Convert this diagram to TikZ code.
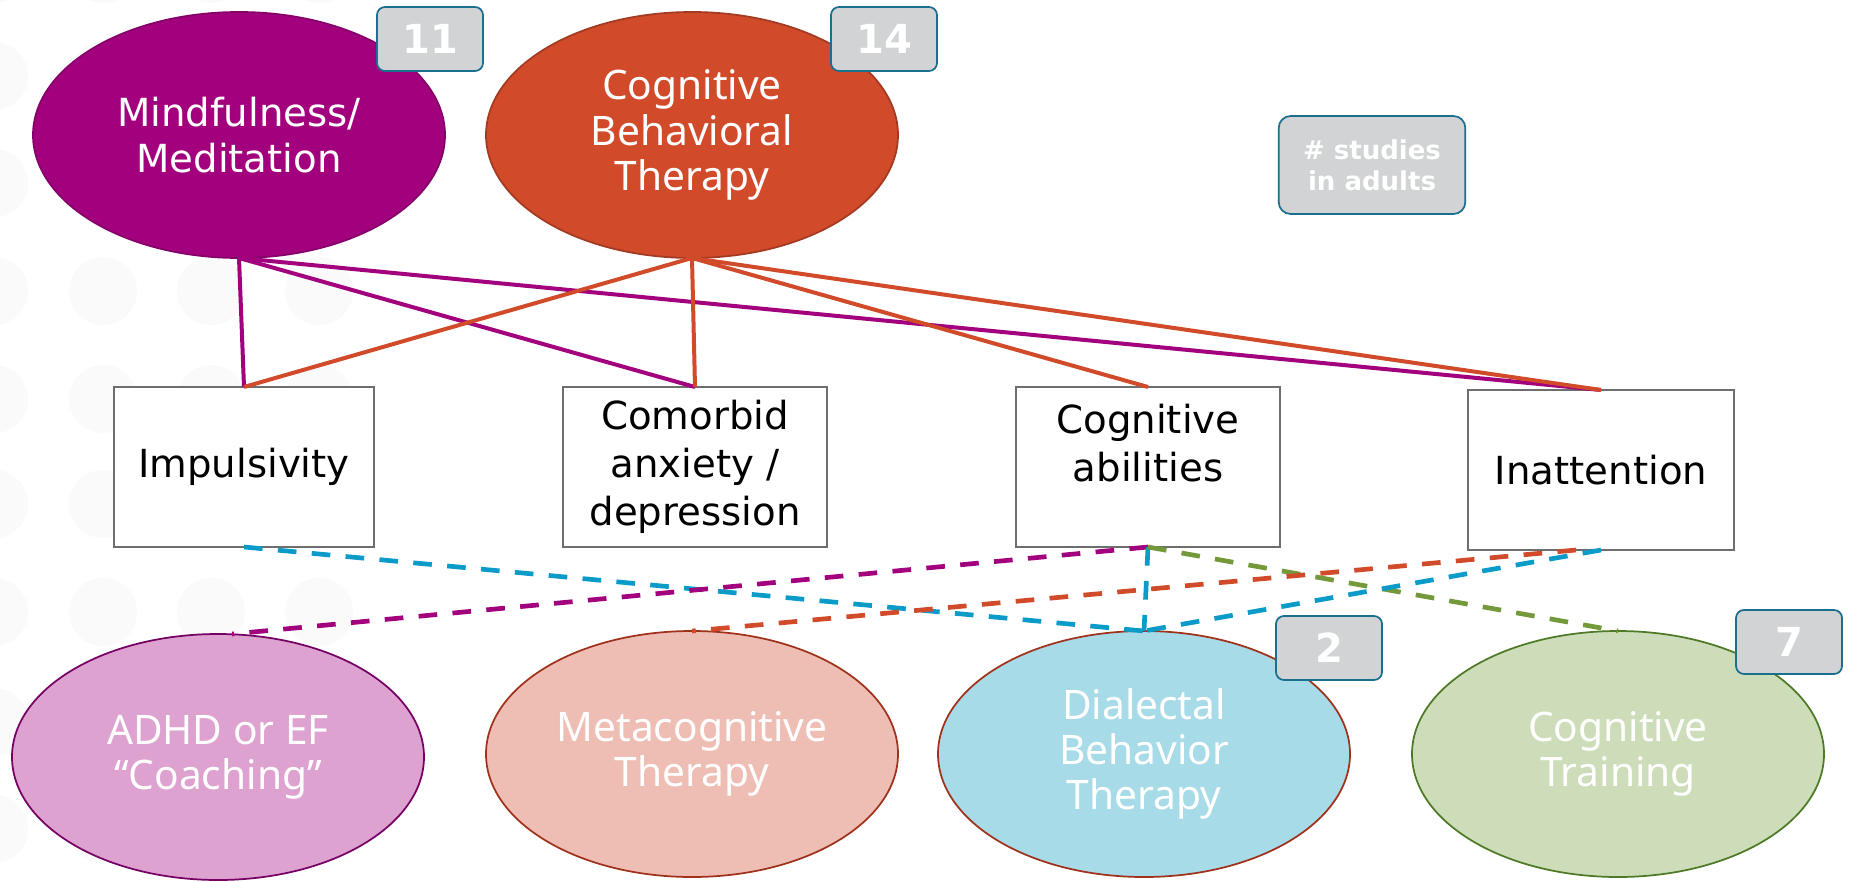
\documentclass[tikz,border=0pt]{standalone}
\usepackage{fontspec}
\setmainfont{DejaVu Sans}
\newfontfamily\narrowfont{Noto Sans}
\usetikzlibrary{shapes.geometric}

\definecolor{mindful}{HTML}{A2007D}
\definecolor{mindfulrim}{HTML}{86006A}
\definecolor{cbt}{HTML}{D14A2A}
\definecolor{cbtrim}{HTML}{A33A22}
\definecolor{coach}{HTML}{DDA2D0}
\definecolor{coachrim}{HTML}{760064}
\definecolor{meta}{HTML}{EEBEB4}
\definecolor{metarim}{HTML}{A0321C}
\definecolor{dbt}{HTML}{A7DBE8}
\definecolor{train}{HTML}{CEDDB9}
\definecolor{trainrim}{HTML}{4E7A27}
\definecolor{badgefill}{HTML}{D1D3D4}
\definecolor{badgerim}{HTML}{1B6F8E}
\definecolor{dashblue}{HTML}{0A9BC9}
\definecolor{dashgreen}{HTML}{74993A}
\definecolor{boxrim}{HTML}{6E6E6E}
\definecolor{dot}{HTML}{FAFAFA}

\begin{document}
\begin{tikzpicture}[x=0.75pt, y=-0.75pt,
  oval/.style={ellipse, minimum width=309pt, minimum height=184.5pt,
    inner sep=0pt, outer sep=0pt, line width=1.3pt, text=white, align=center},
  topfont/.style={font=\fontsize{29}{35}\selectfont},
  lowfont/.style={font=\narrowfont\fontsize{30.5}{34}\selectfont},
  issue/.style={rectangle, draw=boxrim, fill=white, line width=1.4pt,
    minimum height=120pt, inner sep=0pt, outer sep=0pt, align=center,
    font=\fontsize{29}{36}\selectfont},
  badge/.style={rectangle, rounded corners=6pt, fill=badgefill, draw=badgerim,
    line width=1.3pt, text=white, font=\bfseries\fontsize{30}{32}\selectfont,
    minimum width=79.5pt, minimum height=48pt, inner sep=0pt},
  solidlink/.style={line width=3pt},
  dashlink/.style={line width=3.5pt, dash pattern=on 14pt off 11.5pt}]

\useasboundingbox (0,0) rectangle (1858,881);
\fill[white] (0,0) rectangle (1858,881);

% faint dotted backdrop on the left
\foreach \cx in {-6,103,211,319}
  \foreach \cy in {-31,76,183,291,399,504,612,722,829}
    \fill[dot] (\cx,\cy) ellipse [x radius=25.5pt, y radius=25.5pt];

% treatments (top row)
\node[oval, topfont, fill=mindful, draw=mindfulrim] (mind) at (239,135) {Mindfulness/\\Meditation};
\node[oval, lowfont, fill=cbt, draw=cbtrim] (cbt) at (692,135) {Cognitive\\Behavioral\\Therapy};

% symptom domains
\node[issue, minimum width=195pt] (imp) at (244,467) {Impulsivity};
\node[issue, minimum width=198pt] (comorb) at (695,467) {Comorbid\\anxiety /\\depression};
\node[issue, minimum width=198pt] (cogab) at (1148,467) {Cognitive\\abilities\\\mbox{}};
\node[issue, minimum width=199.5pt] (inatt) at (1601,470) {Inattention};

% treatments (bottom row)
\node[oval, lowfont, fill=coach, draw=coachrim] (coach) at (218,757) {ADHD or EF\\“Coaching”};
\node[oval, lowfont, fill=meta, draw=metarim] (meta) at (692,754) {Metacognitive\\Therapy};
\node[oval, lowfont, fill=dbt, draw=metarim] (dbt) at (1144,754) {Dialectal\\Behavior\\Therapy};
\node[oval, lowfont, fill=train, draw=trainrim] (train) at (1618,754) {Cognitive\\Training};

% study counts
\node[badge] (b11) at (430,39) {11};
\node[badge] (b14) at (884,39) {14};
\node[badge] (b2) at (1329,648) {2};
\node[badge] (b7) at (1789,642) {7};
\node[badge, minimum width=140pt, minimum height=73.5pt, rounded corners=9pt,
  align=center, font=\bfseries\fontsize{19.5}{23}\selectfont] (legend) at (1372,165)
  {\# studies\\in adults};

% established links
\draw[solidlink, mindful] (mind.south) -- (imp.north);
\draw[solidlink, mindful] (mind.south) -- (comorb.north);
\draw[solidlink, mindful] (mind.south) -- (inatt.north);
\draw[solidlink, cbt] (cbt.south) -- (imp.north);
\draw[solidlink, cbt] (cbt.south) -- (comorb.north);
\draw[solidlink, cbt] (cbt.south) -- (cogab.north);
\draw[solidlink, cbt] (cbt.south) -- (inatt.north);

% emerging links
\draw[dashlink, dashblue] (imp.south) -- (dbt.north);
\draw[dashlink, mindful] (cogab.south) -- ([xshift=10.5pt]coach.north);
\draw[dashlink, dashblue] (cogab.south) -- (dbt.north);
\draw[dashlink, dashgreen] (cogab.south) -- (train.north);
\draw[dashlink, cbt] ([xshift=-18.75pt]inatt.south) -- (meta.north);
\draw[dashlink, dashblue] (inatt.south) -- (dbt.north);
\end{tikzpicture}
\end{document}
